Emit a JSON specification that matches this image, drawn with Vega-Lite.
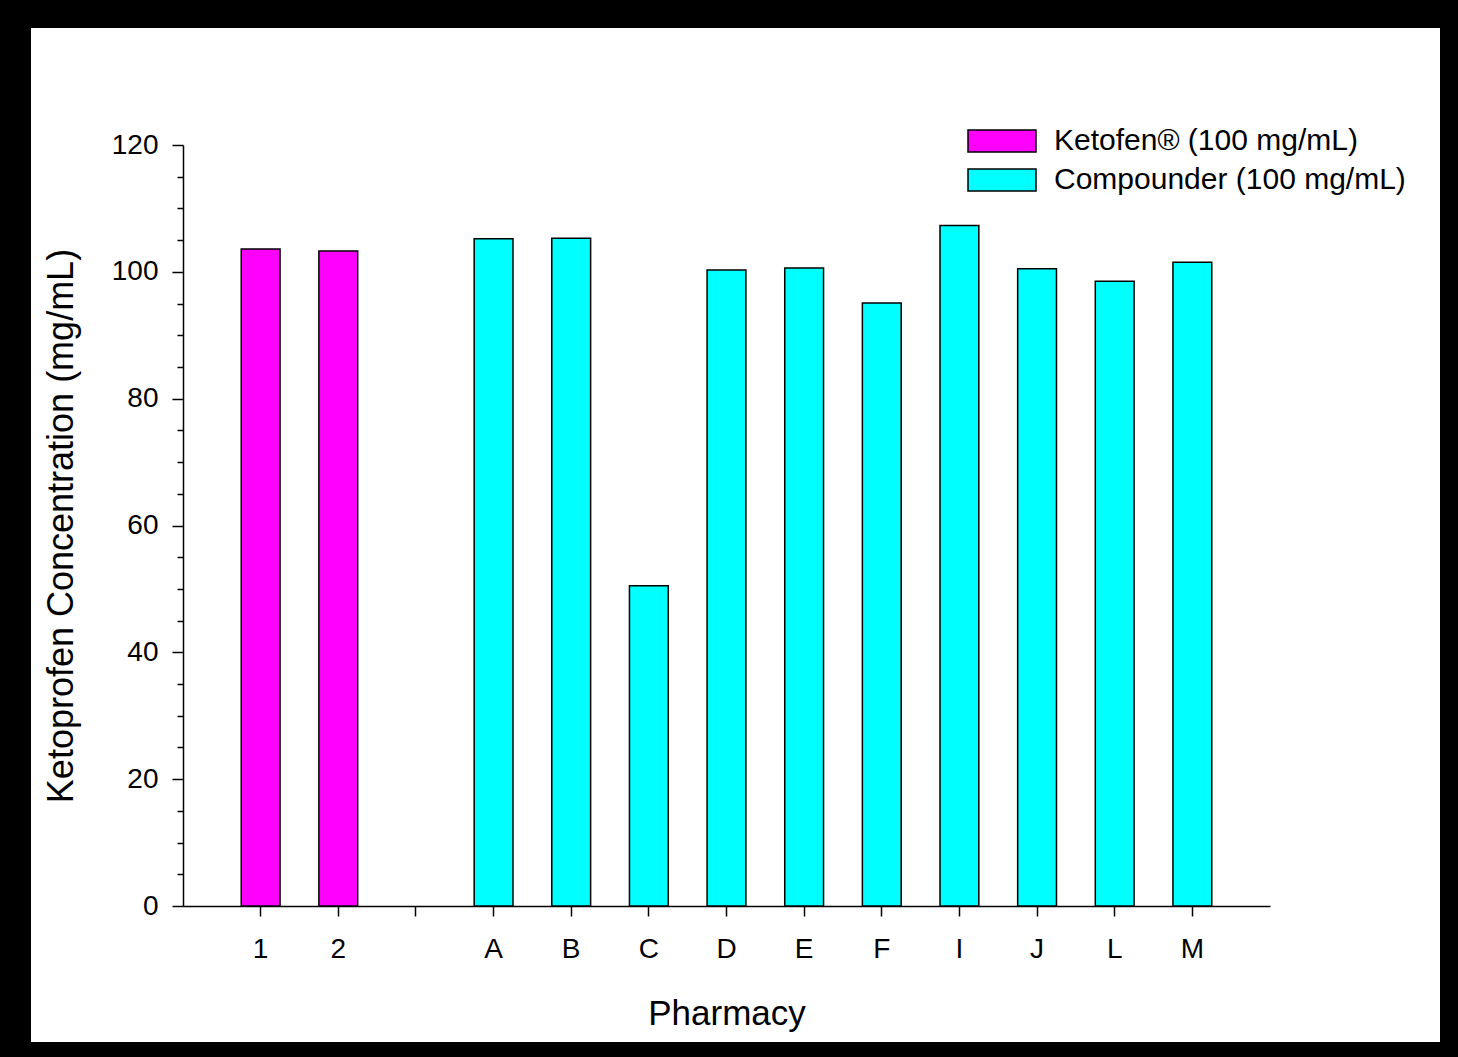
{
  "$schema": "https://vega.github.io/schema/vega-lite/v6.json",
  "width": 1409,
  "height": 1014,
  "autosize": {"type": "none"},
  "padding": {"left": 31, "top": 28, "right": 18, "bottom": 15},
  "background": "black",
  "config": {
    "view": {"fill": "white", "stroke": null},
    "font": "Liberation Sans",
    "axis": {
      "domainColor": "black",
      "domainWidth": 1.5,
      "tickColor": "black",
      "tickWidth": 1.5,
      "labelColor": "black",
      "titleColor": "black",
      "grid": false,
      "labelFont": "Liberation Sans",
      "titleFont": "Liberation Sans",
      "titleFontWeight": "normal"
    },
    "legend": {
      "labelFont": "Liberation Sans",
      "labelColor": "black"
    }
  },
  "data": {
    "values": [
      {"Pharmacy": "1", "Product": "Ketofen® (100 mg/mL)", "Concentration": 103.6},
      {"Pharmacy": "2", "Product": "Ketofen® (100 mg/mL)", "Concentration": 103.3},
      {"Pharmacy": "A", "Product": "Compounder (100 mg/mL)", "Concentration": 105.2},
      {"Pharmacy": "B", "Product": "Compounder (100 mg/mL)", "Concentration": 105.3},
      {"Pharmacy": "C", "Product": "Compounder (100 mg/mL)", "Concentration": 50.5},
      {"Pharmacy": "D", "Product": "Compounder (100 mg/mL)", "Concentration": 100.3},
      {"Pharmacy": "E", "Product": "Compounder (100 mg/mL)", "Concentration": 100.6},
      {"Pharmacy": "F", "Product": "Compounder (100 mg/mL)", "Concentration": 95.1},
      {"Pharmacy": "I", "Product": "Compounder (100 mg/mL)", "Concentration": 107.3},
      {"Pharmacy": "J", "Product": "Compounder (100 mg/mL)", "Concentration": 100.5},
      {"Pharmacy": "L", "Product": "Compounder (100 mg/mL)", "Concentration": 98.5},
      {"Pharmacy": "M", "Product": "Compounder (100 mg/mL)", "Concentration": 101.5}
    ]
  },
  "encoding": {
    "x": {
      "field": "Pharmacy",
      "type": "nominal",
      "sort": null,
      "scale": {
        "domain": ["1", "2", "", "A", "B", "C", "D", "E", "F", "I", "J", "L", "M"],
        "range": [152, 1239],
        "paddingInner": 0.5,
        "paddingOuter": 0.75
      },
      "axis": {
        "orient": "bottom",
        "offset": -136,
        "labelAngle": 0,
        "tickSize": 10,
        "labelPadding": 19,
        "labelFontSize": 28,
        "title": "Pharmacy",
        "titleFontSize": 35,
        "titlePadding": 33
      }
    }
  },
  "layer": [
    {
      "mark": {"type": "bar", "stroke": "black", "strokeWidth": 1.5},
      "encoding": {
        "y": {
          "field": "Concentration",
          "type": "quantitative",
          "scale": {"domain": [0, 120], "range": [878, 117], "nice": false},
          "axis": {
            "orient": "left",
            "offset": -152,
            "values": [0, 20, 40, 60, 80, 100, 120],
            "tickSize": 11,
            "labelPadding": 14,
            "labelFontSize": 28,
            "title": "Ketoprofen Concentration (mg/mL)",
            "titleFontSize": 36,
            "titlePadding": 31
          }
        },
        "color": {
          "field": "Product",
          "type": "nominal",
          "scale": {
            "domain": ["Ketofen® (100 mg/mL)", "Compounder (100 mg/mL)"],
            "range": ["#FF00FF", "#00FFFF"]
          },
          "legend": {
            "title": null,
            "orient": "none",
            "legendX": 956,
            "legendY": 98,
            "padding": 0,
            "symbolType": "M-3.09,-1H3.09V1H-3.09Z",
            "symbolSize": 484,
            "symbolStrokeColor": "black",
            "symbolStrokeWidth": 1.5,
            "symbolOpacity": 1,
            "labelFontSize": 30,
            "labelOffset": 37,
            "labelLimit": 600,
            "rowPadding": 9
          }
        }
      }
    },
    {
      "mark": {"type": "bar", "opacity": 0},
      "encoding": {
        "y": {
          "field": "Concentration",
          "type": "quantitative",
          "axis": {
            "orient": "left",
            "offset": -152,
            "values": [5, 10, 15, 25, 30, 35, 45, 50, 55, 65, 70, 75, 85, 90, 95, 105, 110, 115],
            "tickSize": 6,
            "labels": false,
            "domain": false,
            "title": null
          }
        }
      }
    }
  ],
  "resolve": {"axis": {"y": "independent"}}
}
